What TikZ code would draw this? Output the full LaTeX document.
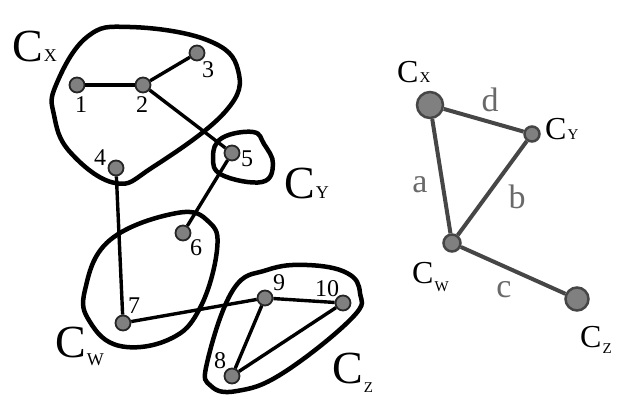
\documentclass[tikz,border=0pt]{standalone}
\usepackage{fontspec}
\setmainfont{Liberation Serif}
\definecolor{lbl}{RGB}{105,105,105}
\definecolor{redge}{RGB}{70,70,70}
\newcommand{\clus}[3]{C\kern1pt\raisebox{#3}{\fontsize{#1}{#1}\selectfont #2}}
\tikzset{
  blob/.style={line width=4.5pt, black},
  edge/.style={line width=3.4pt, black},
  vert/.style={circle, fill=gray, draw=black!85, line width=1.8pt, minimum size=15pt, inner sep=0pt},
  num/.style={font=\fontsize{24}{24}\selectfont, anchor=base, inner sep=0pt},
  bigc/.style={font=\fontsize{46}{46}\selectfont, anchor=base west, inner sep=0pt},
  smallc/.style={font=\fontsize{32}{32}\selectfont, anchor=base west, inner sep=0pt},
  rvert/.style={circle, fill=gray, draw=redge, line width=2.5pt, inner sep=0pt},
  redg/.style={line width=4pt, redge},
  elab/.style={font=\fontsize{34}{34}\selectfont, text=lbl, anchor=base, inner sep=0pt}
}
\begin{document}
\begin{tikzpicture}[x=1pt,y=-1pt]
\useasboundingbox (0,0) rectangle (641,404);
% clusters of the left graph
\draw[blob] plot[smooth cycle, tension=0.7] coordinates {(56,85) (87,37) (130,27) (207,40) (238,70) (225,112) (153,167) (115,183) (70,152) (54,115)};
\draw[blob] plot[smooth cycle, tension=0.7] coordinates {(213,157) (222,138) (253,132) (264,144) (273,164) (262,182) (222,175)};
\draw[blob] plot[smooth cycle, tension=0.7] coordinates {(85,290) (110,240) (177,213) (209,222) (217,250) (200,308) (170,339) (120,346) (90,322)};
\draw[blob] plot[smooth cycle, tension=0.7] coordinates {(207,363) (233,290) (267,270) (307,265) (347,273) (360,293) (352,318) (283,373) (237,391) (211,386)};
% vertices
\foreach \n/\x/\y in {1/77/85, 2/143/85, 3/197/53, 4/116/168, 5/232/153, 6/183/233, 7/123/323, 8/232/376, 9/265/298, 10/343/303}
  \node[vert] (v\n) at (\x,\y) {};
\foreach \a/\b in {1/2, 2/3, 2/5, 4/7, 5/6, 7/9, 9/10, 9/8, 8/10}
  \draw[edge] (v\a) -- (v\b);
\foreach \n/\x/\y in {1/81/113, 2/142/113, 3/208/78, 4/100/165, 5/247/167, 6/196/255, 7/134/313, 8/220/368, 9/279/290, 10/327/296}
  \node[num] (l\n) at (\x,\y) {\n};
\node[bigc] (cx) at (12,62) {\clus{18}{X}{0pt}};
\node[bigc] (cy) at (284,199) {\clus{18}{Y}{0pt}};
\node[bigc] (cw) at (55,357) {\clus{18}{W}{-8pt}};
\node[bigc] (cz) at (332,383) {\clus{15}{Z}{-9pt}};
% reduced graph
\node[rvert, minimum size=26pt] (rx) at (430,105) {};
\node[rvert, minimum size=15pt] (ry) at (532,134) {};
\node[rvert, minimum size=17pt] (rw) at (452,243) {};
\node[rvert, minimum size=23pt] (rz) at (577,299) {};
\draw[redg] (rx) -- (ry);
\draw[redg] (rx) -- (rw);
\draw[redg] (ry) -- (rw);
\draw[redg] (rw) -- (rz);
\node[elab] (ld) at (490,112) {d};
\node[elab] (la) at (420,193) {a};
\node[elab] (lb) at (517,208) {b};
\node[elab] (lc) at (504,297) {c};
\node[smallc] (rcx) at (397,83) {\clus{15}{X}{0pt}};
\node[smallc] (rcy) at (545,140) {\clus{15}{Y}{0pt}};
\node[smallc] (rcw) at (412,283) {\clus{15}{W}{-9pt}};
\node[smallc] (rcz) at (580,347) {\clus{15}{Z}{-6pt}};
\end{tikzpicture}
\end{document}
